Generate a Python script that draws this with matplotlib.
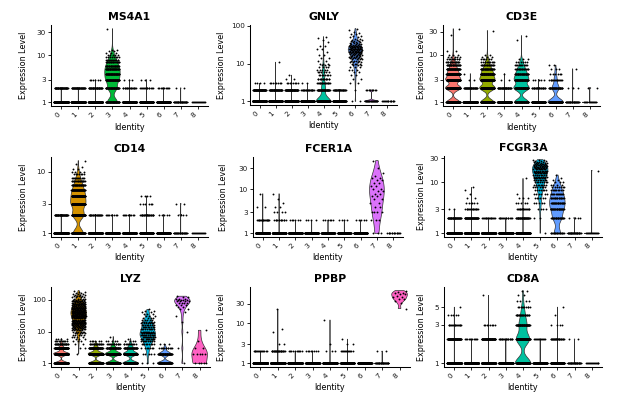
import numpy as np
import matplotlib
matplotlib.use("Agg")
import matplotlib.pyplot as plt
from matplotlib.ticker import NullLocator

plt.rcParams['font.family'] = ['DejaVu Sans']

clusters = ["0", "1", "2", "3", "4", "5", "6", "7", "8"]
cluster_colors = ["#F8766D", "#D39200", "#93AA00", "#00BA38", "#00C19F",
                  "#00B9E3", "#619CFF", "#DB72FB", "#FF61C3"]

genes = ["MS4A1", "GNLY", "CD3E", "CD14", "FCER1A", "FCGR3A", "LYZ", "PPBP", "CD8A"]

# expression level -> number of cells, one dict per cluster
MS4A1 = [
    {1: 640, 2: 44},
    {1: 440, 2: 41},
    {1: 430, 2: 40, 3: 6},
    {1: 60, 2: 50, 3: 60, 4: 50, 5: 40, 6: 30, 7: 20, 8: 13, 9: 8, 10: 5, 11: 3, 12: 2, 13: 2, 36: 1},
    {1: 270, 2: 18, 3: 3},
    {1: 145, 2: 14, 3: 3},
    {1: 145, 2: 10},
    {1: 30, 2: 2},
    {1: 14},
]
GNLY = [
    {1: 610, 2: 70, 3: 4},
    {1: 420, 2: 50, 3: 8, 11: 1},
    {1: 400, 2: 65, 3: 8, 4: 2, 5: 1},
    {1: 320, 2: 22, 3: 2},
    {1: 170, 2: 45, 3: 18, 4: 14, 5: 8, 6: 6, 7: 5, 8: 4, 9: 3, 10: 3, 12: 2, 14: 2, 17: 2,
     20: 1, 25: 2, 30: 2, 38: 1, 42: 1, 48: 1, 52: 1},
    {1: 130, 2: 30},
    {1: 2, 2: 1, 3: 2, 4: 2, 5: 2, 6: 2, 7: 3, 8: 3, 9: 3, 10: 4, 11: 4, 12: 4, 13: 4, 14: 5,
     15: 5, 16: 5, 17: 5, 18: 5, 19: 5, 20: 6, 21: 6, 22: 6, 23: 6, 24: 6, 25: 6, 26: 5, 27: 5,
     28: 5, 29: 4, 30: 4, 32: 4, 34: 4, 36: 3, 38: 3, 40: 3, 43: 3, 46: 2, 50: 2, 55: 2, 60: 2,
     65: 1, 70: 1, 78: 1, 85: 1},
    {1: 24, 2: 8},
    {1: 14},
]
CD3E = [
    {1: 130, 2: 150, 3: 140, 4: 95, 5: 55, 6: 30, 7: 18, 8: 10, 9: 5, 10: 3, 12: 2, 26: 1, 35: 1},
    {1: 440, 2: 38, 3: 2, 4: 1},
    {1: 95, 2: 110, 3: 100, 4: 70, 5: 38, 6: 20, 7: 11, 8: 6, 9: 3, 10: 2, 32: 1},
    {1: 300, 2: 40, 3: 2, 4: 1},
    {1: 65, 2: 70, 3: 60, 4: 38, 5: 20, 6: 11, 7: 6, 8: 3, 20: 1, 25: 1},
    {1: 130, 2: 25, 3: 5},
    {1: 90, 2: 40, 3: 15, 4: 6, 5: 3, 6: 2},
    {1: 28, 2: 3, 5: 1},
    {1: 12, 2: 2},
]
CD14 = [
    {1: 640, 2: 44},
    {1: 90, 2: 100, 3: 110, 4: 85, 5: 55, 6: 35, 7: 20, 8: 12, 9: 7, 10: 4, 11: 2, 12: 1, 13: 1, 15: 1},
    {1: 450, 2: 25},
    {1: 335, 2: 9},
    {1: 280, 2: 10},
    {1: 128, 2: 24, 3: 6, 4: 4},
    {1: 150, 2: 5},
    {1: 26, 2: 4, 3: 2},
    {1: 14},
]
FCER1A = [
    {1: 660, 2: 18, 4: 2, 8: 1},
    {1: 460, 2: 12, 3: 4, 4: 2, 5: 1, 6: 1, 8: 1},
    {1: 470, 2: 6},
    {1: 340, 2: 4},
    {1: 285, 2: 6},
    {1: 158, 2: 4},
    {1: 150, 2: 5},
    {1: 3, 2: 3, 3: 4, 4: 2, 5: 2, 6: 2, 7: 2, 8: 2, 9: 2, 10: 2, 12: 2, 14: 2, 16: 2, 18: 2,
     20: 1, 24: 1, 30: 1, 45: 1},
    {1: 14},
]
FCGR3A = [
    {1: 640, 2: 42, 3: 2},
    {1: 400, 2: 55, 3: 16, 4: 6, 5: 2, 6: 1, 7: 1, 8: 1},
    {1: 460, 2: 16},
    {1: 330, 2: 14},
    {1: 225, 2: 40, 3: 16, 4: 5, 5: 3, 6: 1, 12: 1},
    {1: 1, 2: 2, 3: 4, 4: 5, 5: 6, 6: 6, 7: 7, 8: 7, 9: 8, 10: 8, 11: 8, 12: 9, 13: 9, 14: 9,
     15: 9, 16: 9, 17: 9, 18: 9, 19: 8, 20: 8, 21: 7, 22: 7, 23: 6, 24: 5, 25: 4, 26: 3, 27: 2, 28: 1},
    {1: 20, 2: 25, 3: 28, 4: 25, 5: 18, 6: 12, 7: 9, 8: 7, 9: 4, 10: 3, 11: 2, 12: 1, 14: 1},
    {1: 28, 2: 4},
    {1: 13, 17: 1},
]
LYZ = [
    {1: 250, 2: 280, 3: 110, 4: 30, 5: 10, 6: 4},
    {2: 1, 3: 2, 4: 2, 5: 3, 6: 3, 7: 4, 8: 5, 9: 5, 10: 6, 11: 6, 12: 7, 13: 7, 14: 8, 15: 8,
     16: 9, 17: 9, 18: 9, 19: 10, 20: 10, 22: 11, 24: 11, 26: 12, 28: 12, 30: 12, 32: 12, 34: 12,
     36: 12, 38: 12, 40: 12, 42: 11, 45: 11, 48: 11, 51: 10, 54: 10, 57: 10, 60: 9, 64: 9, 68: 8,
     72: 8, 76: 7, 80: 7, 85: 6, 90: 6, 95: 5, 100: 5, 110: 5, 120: 4, 130: 4, 140: 3, 150: 3,
     165: 2, 180: 2, 195: 1},
    {1: 180, 2: 200, 3: 70, 4: 20, 5: 6},
    {1: 130, 2: 140, 3: 50, 4: 15, 5: 5, 7: 1},
    {1: 120, 2: 110, 3: 45, 4: 12, 5: 4, 6: 1},
    {1: 3, 2: 5, 3: 7, 4: 9, 5: 10, 6: 11, 7: 12, 8: 12, 9: 11, 10: 11, 12: 10, 14: 9, 16: 8,
     18: 7, 20: 6, 23: 5, 26: 4, 30: 3, 35: 3, 40: 2, 45: 2, 50: 1},
    {1: 80, 2: 60, 3: 12, 4: 3},
    {1: 1, 3: 1, 10: 1, 20: 1, 30: 1, 40: 1, 50: 2, 60: 2, 70: 3, 80: 4, 90: 4, 100: 4, 110: 3,
     120: 2, 130: 1},
    {1: 5, 2: 5, 3: 2, 5: 1, 11: 1},
]
PPBP = [
    {1: 670, 2: 14},
    {1: 450, 2: 25, 3: 2, 6: 1, 7: 1, 22: 1},
    {1: 465, 2: 10},
    {1: 335, 2: 8},
    {1: 285, 2: 3, 3: 1, 12: 1},
    {1: 145, 2: 12, 3: 2, 4: 1},
    {1: 155},
    {1: 30, 2: 2},
    {23: 1, 32: 1, 36: 1, 40: 2, 44: 2, 48: 1, 52: 2, 56: 2, 60: 1, 64: 1},
]
CD8A = [
    {1: 580, 2: 80, 3: 16, 4: 5, 5: 1},
    {1: 470, 2: 11},
    {1: 390, 2: 75, 3: 8, 7: 1},
    {1: 325, 2: 19},
    {1: 120, 2: 100, 3: 55, 4: 25, 5: 10, 6: 4, 7: 2, 8: 2},
    {1: 150, 2: 12},
    {1: 120, 2: 25, 3: 4, 4: 1, 5: 1},
    {1: 30, 2: 2},
    {1: 14},
]

gene_data = {"MS4A1": MS4A1, "GNLY": GNLY, "CD3E": CD3E, "CD14": CD14, "FCER1A": FCER1A,
             "FCGR3A": FCGR3A, "LYZ": LYZ, "PPBP": PPBP, "CD8A": CD8A}

y_tick_labels = {
    "MS4A1": [1, 3, 10, 30], "GNLY": [1, 10, 100], "CD3E": [1, 3, 10, 30],
    "CD14": [1, 3, 10], "FCER1A": [1, 3, 10, 30], "FCGR3A": [1, 3, 10, 30],
    "LYZ": [1, 10, 100], "PPBP": [1, 3, 10, 30], "CD8A": [1, 3, 5],
}

# ---- layout (pixels) ----
W, H = 631, 396
panel_px = {  # left, right, top, bottom of plotting area
    "MS4A1": (51, 208, 25, 106), "GNLY": (250, 397, 25, 105), "CD3E": (443, 600, 25, 106),
    "CD14": (51, 208, 157, 237), "FCER1A": (253, 403, 157, 237), "FCGR3A": (444, 602, 156, 237),
    "LYZ": (51, 210, 287, 367), "PPBP": (250, 410, 287, 367), "CD8A": (444, 602, 287, 367),
}
ylabel_x = {"MS4A1": 23, "GNLY": 222, "CD3E": 422, "CD14": 23, "FCER1A": 223, "FCGR3A": 422,
            "LYZ": 23, "PPBP": 222, "CD8A": 422}

fig = plt.figure(figsize=(W / 100, H / 100), dpi=100)

NOISE_SD = 0.005  # tie-breaking jitter added to expression values before plotting


def bw_nrd0(x):
    """R's bw.nrd0 on log10 values; ties get the tiny spread of the tie-breaking noise."""
    n = len(x)
    hi = np.std(x, ddof=1)
    q75, q25 = np.percentile(x, [75, 25])
    iqr = q75 - q25
    if iqr == 0:
        iqr = 1.349 * NOISE_SD / (10 ** q25 * np.log(10))
    lo = min(hi, iqr / 1.34)
    return 0.9 * lo * n ** (-0.2)


GOLD = 0.6180339887498949

for gene in genes:
    L, R, T, B = panel_px[gene]
    ax = fig.add_axes([L / W, 1 - B / H, (R - L) / W, (B - T) / H])
    ax.set_yscale('log')
    data = gene_data[gene]
    allmax = max(max(d.keys()) for d in data)
    allmin = min(min(d.keys()) for d in data)
    for i, d in enumerate(data):
        vals = np.array(sorted(d.keys()), dtype=float)
        cnts = np.array([d[v] for v in sorted(d.keys())])
        lv = np.log10(vals)
        # violin (ggplot-like: scale='width', trim=TRUE, gaussian kernel in log space)
        if len(vals) > 1:
            ally = np.repeat(lv, cnts)
            bw = bw_nrd0(ally)
            grid = np.linspace(lv.min(), lv.max(), 512)
            dens = (cnts[None, :] * np.exp(-0.5 * ((grid[:, None] - lv[None, :]) / bw) ** 2)).sum(1)
            hw = 0.45 * dens / dens.max()
            xs = np.concatenate([i - hw, (i + hw)[::-1]])
            ys = np.concatenate([10 ** grid, (10 ** grid)[::-1]])
            ax.fill(xs, ys, facecolor=cluster_colors[i], edgecolor='#333333', lw=0.5, zorder=2)
        # jittered points
        px, py = [], []
        k = 0
        for v, c in zip(vals, cnts):
            for _ in range(c):
                off = ((k * GOLD + 0.37 * i) % 1.0 - 0.5) * 0.8
                px.append(i + off)
                py.append(v)
                k += 1
        ax.scatter(px, py, s=1.8, c='black', linewidths=0, zorder=3)

    r = np.log10(allmax) - np.log10(allmin)
    ax.set_ylim(10 ** (np.log10(allmin) - 0.05 * r), 10 ** (np.log10(allmax) + 0.05 * r))
    ax.set_xlim(-0.6, len(clusters) - 0.4)
    ticks = y_tick_labels[gene]
    ax.set_yticks(ticks)
    ax.set_yticklabels([str(t) for t in ticks])
    ax.yaxis.set_minor_locator(NullLocator())
    ax.set_xticks(range(len(clusters)))
    ax.set_xticklabels(clusters, rotation=45, ha='right', va='top')
    for s in ['top', 'right']:
        ax.spines[s].set_visible(False)
    for s in ['left', 'bottom']:
        ax.spines[s].set_linewidth(0.75)
    ax.tick_params(axis='both', length=2.2, width=0.6, pad=1.5, labelsize=5.2,
                   labelcolor='#1a1a1a', color='black')
    ax.set_title(gene, fontsize=7.8, fontweight='bold', pad=3.5)
    fig.text(((L + R) / 2) / W, 1 - (B + 21) / H, "Identity", ha='center', va='center', fontsize=5.8)
    fig.text(ylabel_x[gene] / W, 1 - ((T + B) / 2) / H, "Expression Level", ha='center',
             va='center', rotation=90, fontsize=5.8)

fig.savefig("out.png", dpi=100)
